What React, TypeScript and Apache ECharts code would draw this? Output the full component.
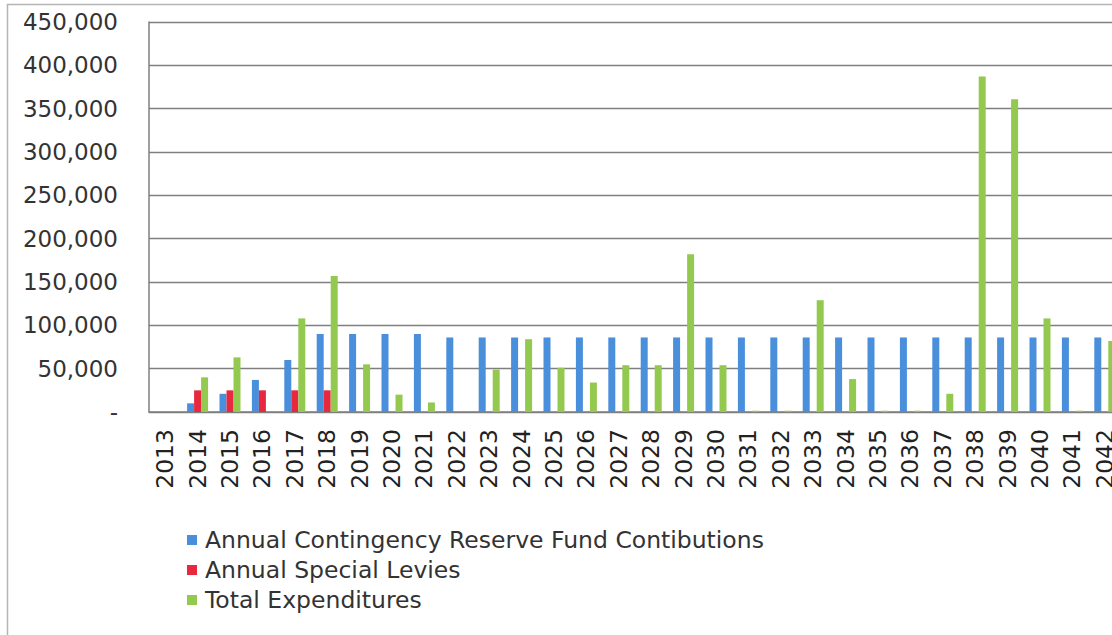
import React, { useEffect, useRef } from "react";
import * as echarts from "echarts";

const years: string[] = [
  "2013", "2014", "2015", "2016", "2017", "2018", "2019", "2020", "2021", "2022",
  "2023", "2024", "2025", "2026", "2027", "2028", "2029", "2030", "2031", "2032",
  "2033", "2034", "2035", "2036", "2037", "2038", "2039", "2040", "2041", "2042",
];

const contributions: number[] = [
  0, 10000, 21000, 37000, 60000, 90000, 90000, 90000, 90000, 86000,
  86000, 86000, 86000, 86000, 86000, 86000, 86000, 86000, 86000, 86000,
  86000, 86000, 86000, 86000, 86000, 86000, 86000, 86000, 86000, 86000,
];

const specialLevies: number[] = [
  0, 25000, 25000, 25000, 25000, 25000, 0, 0, 0, 0,
  0, 0, 0, 0, 0, 0, 0, 0, 0, 0,
  0, 0, 0, 0, 0, 0, 0, 0, 0, 0,
];

const expenditures: number[] = [
  0, 40000, 63000, 0, 108000, 157000, 55000, 20000, 11000, 0,
  49000, 84000, 51000, 34000, 54000, 54000, 182000, 54000, 1500, 1500,
  129000, 38000, 1500, 1500, 21000, 387000, 361000, 108000, 1500, 82000,
];

const seriesNames: string[] = [
  "Annual Contingency Reserve Fund Contibutions",
  "Annual Special Levies",
  "Total Expenditures",
];

const colors: string[] = ["#4a8fdc", "#e8283e", "#94c94f"];

export default function App() {
  const ref = useRef<HTMLDivElement>(null);

  useEffect(() => {
    if (!ref.current) return;
    const chart = echarts.init(ref.current, undefined, { renderer: "svg" });
    const font = "DejaVu Sans, Verdana, sans-serif";
    const seriesData = [contributions, specialLevies, expenditures];
    chart.setOption({
      animation: false,
      backgroundColor: "#ffffff",
      color: colors,
      graphic: [
        {
          type: "rect",
          shape: { x: 7.5, y: 4.5, width: 1300, height: 700 },
          style: { fill: "none", stroke: "#b5b5b5", lineWidth: 1.5 },
          silent: true,
        },
      ],
      grid: { left: 149, top: 22, width: 972, height: 390, containLabel: false },
      legend: {
        orient: "vertical",
        left: 187,
        top: 528,
        icon: "rect",
        itemWidth: 10,
        itemHeight: 10,
        itemGap: 6,
        textStyle: {
          fontFamily: font,
          fontSize: 23.5,
          color: "#333333",
          lineHeight: 22,
          height: 22,
          padding: [0, 0, 0, 3],
        },
        padding: 0,
        data: seriesNames,
      },
      xAxis: {
        type: "category",
        data: years,
        axisLine: { show: true, lineStyle: { color: "#7f7f7f", width: 1.5 } },
        axisTick: { show: false },
        axisLabel: {
          rotate: 90,
          margin: 17,
          fontFamily: font,
          fontSize: 23.5,
          color: "#222222",
          interval: 0,
        },
      },
      yAxis: {
        type: "value",
        min: 0,
        max: 450000,
        interval: 50000,
        axisLine: { show: true, lineStyle: { color: "#7f7f7f", width: 1.5 } },
        axisTick: { show: false },
        splitLine: { show: true, lineStyle: { color: "#7f7f7f", width: 1.3 } },
        axisLabel: {
          margin: 31,
          fontFamily: font,
          fontSize: 23,
          color: "#333333",
          formatter: (v: number) => (v === 0 ? "-" : v.toLocaleString("en-US")),
        },
      },
      series: seriesNames.map((name, i) => ({
        name,
        type: "bar",
        data: seriesData[i],
        barWidth: 7,
        barGap: "0%",
        itemStyle: { color: colors[i] },
      })),
    });
    return () => chart.dispose();
  }, []);

  return (
    <div
      style={{
        position: "fixed",
        left: 0,
        top: 0,
        width: 1112,
        height: 635,
        overflow: "hidden",
        background: "#fff",
      }}
    >
      <div ref={ref} style={{ width: 1150, height: 635 }} />
    </div>
  );
}
